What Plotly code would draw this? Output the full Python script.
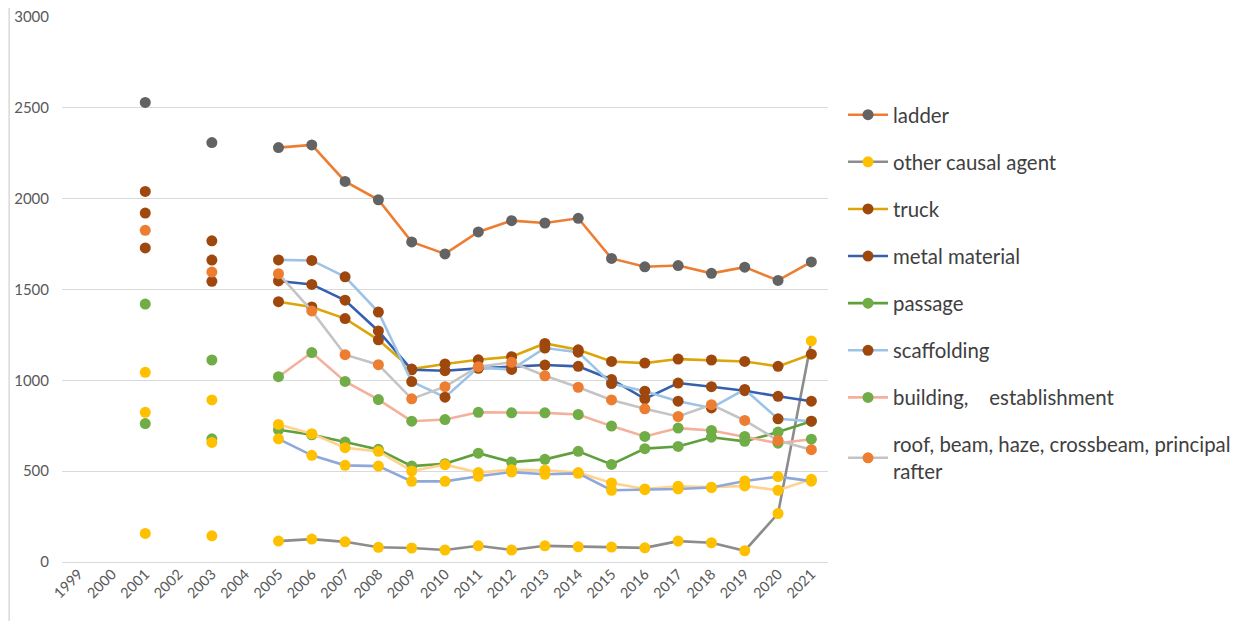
import plotly.graph_objects as go

years = [str(y) for y in range(1999, 2022)]
N = None
ladder = [N, N, 2530, N, 2309, N, 2281, 2296, 2095, 1994, 1762, 1696, 1817, 1879, 1866, 1892, 1671, 1625, 1632, 1589, 1623, 1550, 1652]
other = [N, N, 157, N, 144, N, 115, 126, 111, 81, 77, 66, 89, 66, 89, 84, 82, 78, 115, 106, 62, 267, 1217]
truck = [N, N, 1729, N, 1545, N, 1433, 1404, 1340, 1223, 1062, 1090, 1113, 1130, 1203, 1168, 1104, 1095, 1117, 1112, 1104, 1077, 1144]
metal = [N, N, 1921, N, 1662, N, 1547, 1528, 1441, 1272, 1058, 1053, 1066, 1075, 1084, 1077, 1005, 898, 985, 965, 943, 912, 885]
passage = [N, N, 762, N, 678, N, 728, 700, 660, 620, 528, 541, 599, 550, 565, 609, 537, 624, 636, 687, 664, 715, 775]
scaffolding = [N, N, 2040, N, 1768, N, 1663, 1660, 1570, 1376, 993, 907, 1070, 1060, 1178, 1155, 982, 940, 885, 848, 950, 788, 775]
building = [N, N, 1420, N, 1112, N, 1020, 1153, 994, 894, 775, 784, 824, 821, 821, 812, 748, 691, 737, 724, 691, 654, 676]
roof = [N, N, 1826, N, 1596, N, 1587, 1382, 1141, 1086, 898, 965, 1075, 1099, 1025, 962, 892, 843, 801, 866, 779, 669, 618]
extra_a = [N, N, 1044, N, 892, N, 757, 706, 629, 609, 501, 536, 492, 508, 505, 492, 435, 402, 417, 412, 419, 395, 455]
extra_b = [N, N, 824, N, 658, N, 678, 587, 532, 528, 444, 444, 472, 495, 483, 488, 395, 398, 402, 410, 446, 470, 445]

series = [
    ("ladder", ladder, "#ED7D31", "#636363", True),
    ("other causal agent", other, "#8C8C8C", "#FFC000", True),
    ("truck", truck, "#DCA60A", "#9E480E", True),
    ("metal material", metal, "#3560AE", "#9E480E", True),
    ("passage", passage, "#5FA03C", "#70AD47", True),
    ("scaffolding", scaffolding, "#9DC3E6", "#9E480E", True),
    ("building,\u00a0\u00a0\u00a0\u00a0establishment", building, "#F4B09A", "#70AD47", True),
    ("roof, beam, haze, crossbeam, principal<br>rafter", roof, "#C4C4C4", "#ED7D31", True),
    ("series 9", extra_a, "#FFD38F", "#FFC000", False),
    ("series 10", extra_b, "#8FA8DC", "#FFC000", False),
]

fig = go.Figure()
for i, (name, vals, lc, mc, show) in enumerate(series):
    fig.add_trace(go.Scatter(
        x=years, y=vals, name=name, mode="lines+markers",
        line=dict(color=lc, width=2.6),
        marker=dict(color=mc, size=11),
        connectgaps=False, showlegend=show, legendgroup=f"g{i}",
    ))

fig.update_layout(
    width=1243, height=621,
    margin=dict(l=54, r=423, t=9, b=67),
    paper_bgcolor="white", plot_bgcolor="white",
    font=dict(family="Lato, Open Sans, sans-serif", color="#595959"),
    xaxis=dict(type="category", categoryorder="array", categoryarray=years,
               range=[-0.5, 22.5], showgrid=False, showline=False, zeroline=False,
               tickangle=-45, tickfont=dict(size=14.5, color="#595959"), automargin=False, ticks=""),
    yaxis=dict(range=[0, 3000], dtick=500, showgrid=True, gridcolor="#D9D9D9", gridwidth=1,
               zeroline=True, zerolinecolor="#D9D9D9", zerolinewidth=1, showline=False,
               tickfont=dict(size=15, color="#595959"), automargin=False, ticks="",
               ticklabelstandoff=12, ticklabeloverflow="allow"),
    legend=dict(x=1.0196, y=0.857, xanchor="left", yanchor="top",
                font=dict(size=20.4, color="#404040"), tracegroupgap=17.6,
                bgcolor="rgba(0,0,0,0)", itemwidth=40),
    shapes=[dict(type="line", xref="paper", yref="paper", x0=-0.069, x1=-0.069, y0=-0.13, y1=1.02,
                 line=dict(color="#D9D9D9", width=1.5))],
)

fig.write_html("out.html")
